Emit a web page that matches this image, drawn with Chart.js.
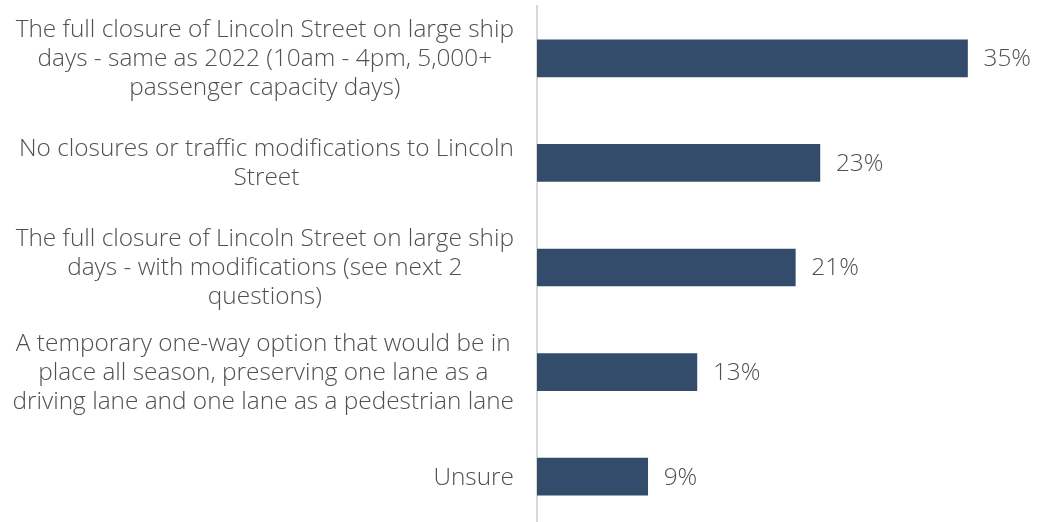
<!DOCTYPE html>
<html>
<head>
<meta charset="utf-8">
<script src="https://cdn.jsdelivr.net/npm/chart.js@4/dist/chart.umd.min.js"></script>
<style>
  html, body { margin: 0; padding: 0; background: #ffffff; overflow: hidden; }
  #wrap { width: 1040px; height: 530px; position: relative; }
</style>
</head>
<body>
<div id="wrap"><canvas id="chart"></canvas></div>
<script>
// Survey options, each broken into the lines it is printed on
const categories = [
  ["The full closure of Lincoln Street on large ship", "days - same as 2022 (10am - 4pm, 5,000+", "passenger capacity days)"],
  ["No closures or traffic modifications to Lincoln", "Street"],
  ["The full closure of Lincoln Street on large ship", "days - with modifications (see next 2", "questions)"],
  ["A temporary one-way option that would be in", "place all season, preserving one lane as a", "driving lane and one lane as a pedestrian lane"],
  ["Unsure"]
];
// Share of respondents choosing each option (%)
const shares = [35, 23, 21, 13, 9];

const FONT = "300 24.4px 'Open Sans', 'Noto Sans', sans-serif";
const TEXT_COLOR = "#505050";
const BAR_COLOR = "#344c6c";

// Draws the multi-line category labels: each block is right-aligned
// against the axis, with its lines centred within the block.
const categoryLabels = {
  id: "categoryLabels",
  afterDraw(chart) {
    const { ctx, chartArea } = chart;
    const yScale = chart.scales.y;
    const lineHeight = 29;
    ctx.save();
    ctx.font = FONT;
    ctx.fillStyle = TEXT_COLOR;
    ctx.textAlign = "center";
    ctx.textBaseline = "middle";
    categories.forEach((lines, i) => {
      const y = yScale.getPixelForValue(i);
      const widest = Math.max(...lines.map(l => ctx.measureText(l).width));
      const right = chartArea.left - 23;
      const cx = right - widest / 2;
      lines.forEach((line, j) => {
        ctx.fillText(line, cx, y + 1 + (j - (lines.length - 1) / 2) * lineHeight);
      });
    });
    ctx.restore();
  }
};

// Percentage labels placed just past the end of each bar
const valueLabels = {
  id: "valueLabels",
  afterDatasetsDraw(chart) {
    const { ctx } = chart;
    const meta = chart.getDatasetMeta(0);
    ctx.save();
    ctx.font = FONT;
    ctx.fillStyle = TEXT_COLOR;
    ctx.textAlign = "left";
    ctx.textBaseline = "middle";
    meta.data.forEach((bar, i) => {
      ctx.fillText(shares[i] + "%", bar.x + 16, bar.y + 1);
    });
    ctx.restore();
  }
};

new Chart(document.getElementById("chart"), {
  type: "bar",
  data: {
    labels: categories,
    datasets: [{
      data: shares,
      backgroundColor: BAR_COLOR,
      borderWidth: 0,
      barThickness: 37
    }]
  },
  options: {
    indexAxis: "y",
    responsive: true,
    maintainAspectRatio: false,
    animation: false,
    layout: { padding: { top: 6, bottom: 1, left: 0, right: 11 } },
    plugins: {
      legend: { display: false },
      tooltip: { enabled: false }
    },
    scales: {
      x: {
        display: false,
        min: 0,
        max: 40
      },
      y: {
        ticks: { display: false },
        grid: { display: false },
        border: { display: true, color: "#d9d9d9", width: 2 },
        afterFit(scale) { scale.width = 537; }
      }
    }
  },
  plugins: [categoryLabels, valueLabels]
});
</script>
</body>
</html>
